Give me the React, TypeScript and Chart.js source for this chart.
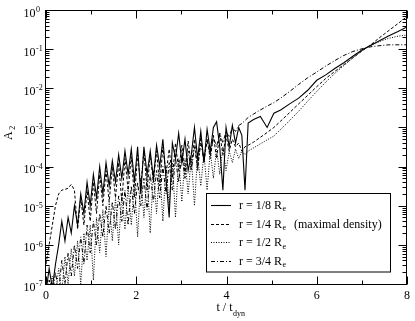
import React, { useEffect, useRef } from "react";
import { Chart, registerables } from "chart.js";

Chart.register(...registerables);

// time in units of t_dyn
const time = [
  0, 0.07, 0.14, 0.21, 0.28, 0.35, 0.42, 0.49, 0.56, 0.63, 0.7, 0.77, 0.84, 0.91, 0.98,
  1.05, 1.12, 1.19, 1.26, 1.33, 1.4, 1.47, 1.54, 1.61, 1.68, 1.75, 1.82, 1.89, 1.96,
  2.03, 2.1, 2.17, 2.24, 2.31, 2.38, 2.45, 2.52, 2.59, 2.66, 2.73, 2.8, 2.87, 2.94,
  3.01, 3.08, 3.15, 3.22, 3.29, 3.36, 3.43, 3.5, 3.57, 3.64, 3.71, 3.78, 3.85, 3.92,
  3.99, 4.06, 4.13, 4.2, 4.27, 4.34, 4.41, 4.48,
  4.6, 4.75, 4.9, 5.05, 5.2, 5.4, 5.6, 5.8, 6.0, 6.2, 6.4, 6.6, 6.8, 7.0, 7.2, 7.4, 7.6, 7.8, 8.0,
];

// r = 1/8 Re (solid)
const r18 = [
  6.3e-8, 2.5e-7, 7.9e-8, 3.2e-7, 1e-6, 4.0e-6, 1.26e-6, 5.0e-6, 2.0e-6, 1e-5, 3.2e-6, 2.0e-5, 6.3e-6, 4.0e-5, 1.0e-5,
  6.3e-5, 1.6e-5, 1.0e-4, 2.0e-5, 1.26e-4, 3.2e-5, 1.4e-4, 4.0e-5, 2.0e-4, 5.0e-5, 2.5e-4, 6.3e-5, 2.8e-4, 4.0e-5,
  3.2e-4, 2.0e-5, 3.2e-4, 6.3e-5, 2.5e-4, 5.0e-5, 3.5e-4, 1.0e-4, 5.0e-4, 5.0e-5, 5.0e-6, 4.0e-4, 1.6e-4, 7.1e-4,
  1.26e-4, 5.0e-4, 7.9e-5, 2.0e-4, 1.0e-3, 1.6e-4, 7.9e-4, 1.26e-4, 8.9e-4, 2.5e-4, 1.0e-3, 1.4e-3, 3.2e-4, 2.5e-5,
  1.0e-3, 3.2e-4, 1.12e-3, 4.0e-4, 1.0e-3, 6.3e-4, 2.5e-5, 1.3e-3,
  1.6e-3, 1.9e-3, 1.0e-3, 2.3e-3, 2.8e-3, 4.0e-3, 5.6e-3, 8.9e-3, 1.6e-2, 2.2e-2, 3.2e-2, 4.5e-2, 6.6e-2, 9.5e-2,
  0.126, 0.166, 0.219, 0.282, 0.37,
];

// r = 1/4 Re, maximal density (dashed)
const r14 = [
  3.2e-7, 1.0e-6, 3.2e-6, 1.0e-5, 2.0e-5, 2.5e-5, 2.6e-5, 2.8e-5, 3.5e-5, 2.5e-5, 2.5e-6, 1.6e-5, 3.2e-6, 2.5e-5, 4.0e-6,
  4.0e-5, 6.3e-6, 6.3e-5, 1.0e-5, 7.9e-5, 1.26e-5, 1.0e-4, 1.6e-5, 1.26e-4, 1.26e-5, 1.6e-4, 2.5e-5, 1.78e-4, 1.6e-5,
  2.0e-4, 3.2e-5, 2.5e-4, 2.5e-5, 2.0e-4, 4.0e-5, 2.5e-4, 3.2e-5, 3.2e-4, 6.3e-5, 2.8e-4, 5.0e-5, 4.0e-4, 7.9e-5,
  3.5e-4, 6.3e-5, 4.5e-4, 1.0e-4, 5.0e-4, 7.9e-5, 5.6e-4, 1.26e-4, 5.0e-4, 1.6e-4, 6.3e-4, 1.6e-4, 7.1e-4, 2.0e-4,
  6.3e-4, 2.5e-4, 5.0e-4, 3.2e-4, 4.0e-4, 2.5e-4, 3.2e-4, 3.5e-4,
  4.2e-4, 5.6e-4, 7.4e-4, 1.0e-3, 1.45e-3, 2.4e-3, 4.0e-3, 6.6e-3, 1.1e-2, 1.78e-2, 2.7e-2, 4.0e-2, 6.0e-2, 8.9e-2,
  0.13, 0.2, 0.3, 0.45, 0.68,
];

// r = 1/2 Re (dotted)
const r12 = [
  3.2e-8, 6.3e-8, 1.6e-7, 5.0e-8, 2.5e-7, 6.3e-8, 5.0e-7, 1.0e-7, 7.9e-7, 1.6e-7, 1.26e-6, 1.0e-7, 2.0e-6, 4.0e-7, 3.2e-6,
  1.26e-7, 5.0e-6, 6.3e-7, 7.9e-6, 5.0e-7, 1.26e-5, 1.26e-6, 1.6e-5, 1.0e-6, 2.0e-5, 2.5e-6, 3.2e-5, 3.2e-6, 4.0e-5,
  1.6e-6, 5.0e-5, 5.0e-6, 6.3e-5, 2.0e-6, 7.9e-5, 6.3e-6, 1.0e-4, 4.0e-6, 1.0e-4, 1.0e-5, 1.26e-4, 5.0e-6, 1.6e-4,
  1.26e-5, 1.6e-4, 2.0e-5, 1.78e-4, 1.0e-5, 2.0e-4, 3.2e-5, 2.2e-4, 2.5e-5, 2.5e-4, 5.0e-5, 2.8e-4, 6.3e-5, 3.2e-4,
  7.9e-5, 2.5e-4, 1.26e-4, 2.8e-4, 1.6e-4, 2.5e-4, 2.0e-4, 2.5e-4,
  3.0e-4, 3.8e-4, 4.8e-4, 6.0e-4, 8.9e-4, 1.5e-3, 2.6e-3, 4.7e-3, 8.3e-3, 1.45e-2, 2.4e-2, 3.8e-2, 6.0e-2, 9.1e-2,
  0.126, 0.158, 0.19, 0.214, 0.23,
];

// r = 3/4 Re (dash-dot)
const r34 = [
  4.0e-8, 1.26e-7, 5.0e-8, 2.0e-7, 6.3e-8, 4.0e-7, 1.0e-7, 6.3e-7, 1.6e-7, 1.0e-6, 2.5e-7, 1.6e-6, 3.2e-7, 3.2e-6, 6.3e-7,
  4.0e-6, 1.0e-6, 6.3e-6, 1.6e-6, 1.0e-5, 2.0e-6, 1.26e-5, 2.5e-6, 1.78e-5, 4.0e-6, 2.5e-5, 3.2e-6, 3.2e-5, 6.3e-6,
  4.0e-5, 1.0e-5, 5.0e-5, 7.9e-6, 6.3e-5, 1.26e-5, 7.9e-5, 1.6e-5, 1.0e-4, 2.0e-5, 1.26e-4, 2.5e-5, 1.6e-4, 4.0e-5,
  2.0e-4, 5.0e-5, 2.5e-4, 7.9e-5, 3.2e-4, 1.0e-4, 4.0e-4, 1.6e-4, 5.0e-4, 2.0e-4, 5.6e-4, 3.2e-4, 7.1e-4, 4.0e-4,
  7.9e-4, 5.6e-4, 1.0e-3, 7.9e-4, 1.12e-3, 1.26e-3, 1.5e-3, 1.8e-3,
  2.2e-3, 2.8e-3, 3.5e-3, 4.3e-3, 5.6e-3, 8.3e-3, 1.26e-2, 1.86e-2, 2.6e-2, 3.7e-2, 5.1e-2, 6.9e-2, 8.7e-2, 0.102,
  0.115, 0.123, 0.129, 0.129, 0.129,
];

const xTicks = [0, 1, 2, 3, 4, 5, 6, 7, 8];
const xTickLabels = ["0", "", "2", "", "4", "", "6", "", "8"];
const yDecades = [-7, -6, -5, -4, -3, -2, -1, 0];
const yMinorMultipliers = [2, 3, 4, 5, 6, 7, 8, 9];

const seriesNames = ["r = 1/8 R", "r = 1/4 R", "r = 1/2 R", "r = 3/4 R"];
const seriesNotes = ["", "(maximal density)", "", ""];
const seriesDash: number[][] = [[], [3, 2], [1, 1.5], [4, 2, 1, 2]];
const seriesWidth = [1.1, 1, 1, 1];

const SERIF = "'Liberation Serif', 'Times New Roman', serif";

const decorPlugin = {
  id: "decor",
  beforeDraw(chart: any) {
    const ctx = chart.ctx;
    ctx.save();
    ctx.fillStyle = "#fff";
    ctx.fillRect(0, 0, chart.width, chart.height);
    ctx.restore();
  },
  afterDraw(chart: any) {
    const ctx: CanvasRenderingContext2D = chart.ctx;
    const xs = chart.scales.x;
    const ys = chart.scales.y;
    const ca = chart.chartArea;
    const L = Math.round(ca.left) - 0.5;
    const R = Math.round(ca.right) - 0.5;
    const T = Math.round(ca.top) + 0.5;
    const B = Math.round(ca.bottom) + 0.5;
    ctx.save();
    ctx.strokeStyle = "#000";
    ctx.lineWidth = 1;
    ctx.setLineDash([]);
    ctx.strokeRect(L, T, R - L, B - T);

    // x ticks (inward, bottom and top)
    ctx.beginPath();
    xTicks.forEach((v, i) => {
      const px = Math.round(xs.getPixelForValue(v)) + 0.5;
      const len = xTickLabels[i] ? 8 : 4;
      ctx.moveTo(px, B);
      ctx.lineTo(px, B - len);
      ctx.moveTo(px, T);
      ctx.lineTo(px, T + len);
    });
    // y ticks (inward, left and right)
    yDecades.forEach((k) => {
      const py = Math.round(ys.getPixelForValue(Math.pow(10, k))) + 0.5;
      ctx.moveTo(L, py);
      ctx.lineTo(L + 8, py);
      ctx.moveTo(R, py);
      ctx.lineTo(R - 8, py);
      if (k < 0) {
        yMinorMultipliers.forEach((m) => {
          const pm = Math.round(ys.getPixelForValue(m * Math.pow(10, k))) + 0.5;
          ctx.moveTo(L, pm);
          ctx.lineTo(L + 4, pm);
          ctx.moveTo(R, pm);
          ctx.lineTo(R - 4, pm);
        });
      }
    });
    ctx.stroke();

    // tick labels
    ctx.fillStyle = "#000";
    ctx.textBaseline = "alphabetic";
    ctx.font = `12px ${SERIF}`;
    ctx.textAlign = "center";
    xTicks.forEach((v, i) => {
      if (!xTickLabels[i]) return;
      ctx.fillText(xTickLabels[i], xs.getPixelForValue(v), B + 14);
    });
    yDecades.forEach((k) => {
      const py = ys.getPixelForValue(Math.pow(10, k));
      ctx.font = `12px ${SERIF}`;
      ctx.textAlign = "right";
      ctx.fillText("10", L - 10, py + 6.5);
      ctx.font = `8px ${SERIF}`;
      ctx.textAlign = "left";
      ctx.fillText(String(k), L - 9.5, py + 2);
    });

    // x title: t / t_dyn
    ctx.font = `12px ${SERIF}`;
    const main = "t / t";
    const w1 = ctx.measureText(main).width;
    ctx.font = `8px ${SERIF}`;
    const w2 = ctx.measureText("dyn").width;
    const cx = (ca.left + ca.right) / 2 + 4;
    const sx = cx - (w1 + w2) / 2;
    ctx.textAlign = "left";
    ctx.font = `12px ${SERIF}`;
    ctx.fillText(main, sx, 311);
    ctx.font = `8px ${SERIF}`;
    ctx.fillText("dyn", sx + w1 + 0.5, 316);

    // y title: A_2
    ctx.save();
    ctx.translate(12, 140);
    ctx.rotate(-Math.PI / 2);
    ctx.font = `12px ${SERIF}`;
    ctx.textAlign = "left";
    ctx.fillText("A", 0, 0);
    const wa = ctx.measureText("A").width;
    ctx.font = `8px ${SERIF}`;
    ctx.fillText("2", wa + 1.5, 3);
    ctx.restore();

    // legend box
    const bx = 206.5, by = 193.5, bw = 184, bh = 78.5;
    ctx.fillStyle = "#fff";
    ctx.fillRect(bx, by, bw, bh);
    ctx.strokeStyle = "#000";
    ctx.lineWidth = 1;
    ctx.strokeRect(bx, by, bw, bh);
    const rowY = [204.5, 223.5, 242, 260.5];
    seriesNames.forEach((name, i) => {
      const y = Math.round(rowY[i]) + 0.5;
      ctx.save();
      ctx.setLineDash(seriesDash[i]);
      ctx.lineWidth = seriesWidth[i];
      ctx.beginPath();
      ctx.moveTo(211, y);
      ctx.lineTo(231, y);
      ctx.stroke();
      ctx.restore();
      ctx.fillStyle = "#000";
      ctx.textAlign = "left";
      ctx.font = `12px ${SERIF}`;
      ctx.fillText(name, 239, rowY[i] + 4);
      const wn = ctx.measureText(name).width;
      ctx.font = `8px ${SERIF}`;
      ctx.fillText("e", 239 + wn + 0.5, rowY[i] + 6.5);
      if (seriesNotes[i]) {
        ctx.font = `12px ${SERIF}`;
        ctx.fillText(seriesNotes[i], 294, rowY[i] + 4);
      }
    });
    ctx.restore();
  },
};

export default function App() {
  const ref = useRef<HTMLCanvasElement>(null);
  useEffect(() => {
    const canvas = ref.current;
    if (!canvas) return;
    const values = [r18, r14, r12, r34];
    const chart = new Chart(canvas, {
      type: "line",
      data: {
        datasets: values.map((vals, i) => ({
          label: seriesNames[i],
          data: time.map((t, j) => ({ x: t, y: vals[j] })),
          borderColor: "#000",
          backgroundColor: "#000",
          borderWidth: seriesWidth[i],
          borderDash: seriesDash[i],
          pointRadius: 0,
          tension: 0,
          fill: false,
        })),
      },
      options: {
        animation: false,
        responsive: false,
        maintainAspectRatio: false,
        devicePixelRatio: 1,
        layout: { padding: { left: 46, top: 10, right: 8, bottom: 37 } },
        plugins: { legend: { display: false }, tooltip: { enabled: false } },
        scales: {
          x: { type: "linear", min: 0, max: 8, display: false },
          y: { type: "logarithmic", min: 1e-7, max: 1, display: false },
        },
      },
      plugins: [decorPlugin],
    } as any);
    return () => chart.destroy();
  }, []);
  return (
    <div style={{ position: "fixed", left: 0, top: 0, width: 415, height: 321, background: "#fff" }}>
      <canvas ref={ref} width={415} height={321} style={{ display: "block", width: 415, height: 321 }} />
    </div>
  );
}
